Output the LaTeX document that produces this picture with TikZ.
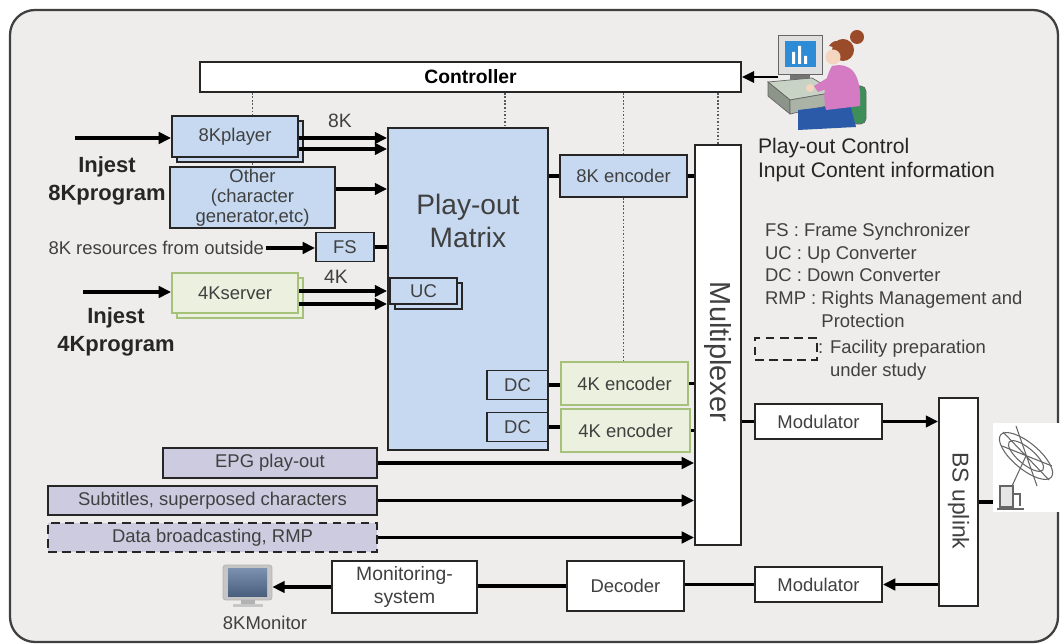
\documentclass[tikz,border=0pt]{standalone}
\usepackage{fontspec}
\setmainfont{Liberation Sans}
\usetikzlibrary{arrows.meta,shadows}

\definecolor{panel}{HTML}{EEEDEB}
\definecolor{blueF}{HTML}{C6D9F1}
\definecolor{greenF}{HTML}{EBF1DE}
\definecolor{greenD}{HTML}{A6C27A}
\definecolor{lilacF}{HTML}{CDCBE0}
\definecolor{ink}{HTML}{404040}
\definecolor{scr}{HTML}{2E8BD6}
\definecolor{desk}{HTML}{C9D3C5}
\definecolor{chair}{HTML}{3E8E5A}
\definecolor{jeans}{HTML}{2B5BA8}
\definecolor{shirt}{HTML}{D47BC4}
\definecolor{skin}{HTML}{F5D5BF}
\definecolor{hair}{HTML}{9A4B2A}
\definecolor{tvtop}{HTML}{7A90AE}
\definecolor{tvbot}{HTML}{4A5F7D}

\tikzset{
  sz/.style 2 args={minimum width=#1cm, minimum height=#2cm},
  box/.style={draw=black!85, line width=1.1pt, inner sep=1pt, text=ink,
              font=\fontsize{10.5}{12}\selectfont},
  bluebox/.style={box, fill=blueF},
  greenbox/.style={box, fill=greenF, draw=greenD},
  lilacbox/.style={box, fill=lilacF},
  whitebox/.style={box, fill=white},
  stack/.style={copy shadow={shadow xshift=3pt, shadow yshift=-3pt}},
  flow/.style={line width=1.8pt, -{Triangle[length=7pt,width=6.5pt]}},
  link/.style={line width=1.8pt},
  ctl/.style={densely dotted, line width=1pt, black!65},
  note/.style={text=ink, font=\fontsize{10.5}{12.9}\selectfont},
  inj/.style={text=black!85, font=\bfseries\fontsize{12.5}{16}\selectfont, align=center},
}

\begin{document}
\begin{tikzpicture}[x=0.02cm, y=-0.02cm]
  \useasboundingbox (0,0) rectangle (1061,644);
  \draw[fill=panel, draw=black!75, line width=1.3pt, rounded corners=0.5cm]
    (10,10) rectangle (1058,642);

  % controller
  \node[whitebox, sz={10.82}{0.6}, text=black,
        font=\bfseries\fontsize{11}{13}\selectfont] (ctrl) at (470.5,77) {Controller};

  % program sources
  \node[inj] (inj8k) at (107,181) {Injest\\8Kprogram};
  \node[inj] (inj4k) at (116,331.5) {Injest\\4Kprogram};
  \coordinate (in8k) at (75,138);
  \coordinate (in4k) at (83,292);
  \node[bluebox, stack, sz={2.52}{0.82}] (play8k) at (235,136.5) {8Kplayer};
  \node[bluebox, sz={3.3}{1.22}, align=center,
        font=\fontsize{10.5}{11.3}\selectfont] (other) at (252.5,197.5)
        {Other\\(character\\generator,etc)};
  \node[bluebox, sz={1.16}{0.58}] (fs) at (345,247) {FS};
  \node[note, anchor=east, inner sep=1pt] (ext8k) at (266,248) {8K resources from outside};
  \node[greenbox, stack, sz={2.52}{0.8}] (srv4k) at (235,293) {4Kserver};
  \node[note, font=\fontsize{11}{13}\selectfont] (lbl8k) at (340,121) {8K};
  \node[note, font=\fontsize{11}{13}\selectfont] (lbl4k) at (336,277) {4K};

  % matrix
  \node[bluebox, sz={3.2}{6.44}] (matrix) at (468,289) {};
  \node[text=ink, font=\fontsize{16}{18.7}\selectfont, align=center] (mtxtext)
    at (468,221) {Play-out\\Matrix};
  \node[bluebox, stack, sz={1.34}{0.52}] (uc) at (423.5,291) {UC};
  \node[bluebox, sz={1.22}{0.58}] (dc1) at (517.5,385) {DC};
  \node[bluebox, sz={1.22}{0.58}] (dc2) at (517.5,427) {DC};

  % encoders and multiplexer
  \node[bluebox, sz={2.54}{0.84}] (enc8k) at (623.5,176) {8K encoder};
  \node[greenbox, sz={2.54}{0.86}] (enc4ka) at (624.5,383.5) {4K encoder};
  \node[greenbox, sz={2.58}{0.86}] (enc4kb) at (625.5,430.5) {4K encoder};
  \node[whitebox, sz={0.92}{8}] (mux) at (718,345) {};
  \node[rotate=-90, text=ink, font=\fontsize{16.5}{19}\selectfont] (muxtext)
    at (718,352) {Multiplexer};

  % ancillary data
  \node[lilacbox, sz={4.28}{0.6}] (epg) at (270,463) {EPG play-out};
  \node[lilacbox, sz={6.58}{0.58}] (subt) at (212.5,500.5) {Subtitles, superposed characters};
  \node[lilacbox, sz={6.58}{0.58}, dash pattern=on 5pt off 3pt] (datab) at (212.5,537.5)
    {Data broadcasting, RMP};

  % transmission and monitoring
  \node[whitebox, sz={2.54}{0.7}] (modup) at (818.5,421.5) {Modulator};
  \node[whitebox, sz={0.78}{4.16}] (bsup) at (958.5,502) {};
  \node[rotate=-90, text=ink, font=\fontsize{13}{15}\selectfont] (bstext)
    at (958.5,501) {BS uplink};
  \node[whitebox, sz={2.54}{0.7}] (moddn) at (818.5,584.5) {Modulator};
  \node[whitebox, sz={2.34}{1.0}] (dec) at (625.5,586) {Decoder};
  \node[whitebox, sz={2.9}{1.04}, align=center,
        font=\fontsize{11}{12.6}\selectfont] (monsys) at (404.5,587) {Monitoring-\\system};

  % monitor
  \node[fill=gray!45, draw=gray!60, rounded corners=1.5pt, sz={0.98}{0.7},
        inner sep=0pt] (mon) at (247.5,582.5) {};
  \shade[top color=tvtop, bottom color=tvbot] (228,569) rectangle (267,596);
  \fill[gray!60] (241,600) rectangle (255,604);
  \fill[gray!45] (233,604) rectangle (263,607);
  \node[note] (monlbl) at (265,623) {8KMonitor};

  % antenna
  \node[fill=white, sz={1.34}{1.78}, inner sep=0pt] (dish) at (1026.5,467.5) {};
  \begin{scope}[draw=black!60, line width=0.6pt]
    \draw[rotate around={-40:(1026,456)}] (1026,456) ellipse (33 and 13);
    \draw[rotate around={-40:(1026,456)}] (1026,456) ellipse (22 and 8);
    \draw (1003,432) -- (1049,480) (1016,426) -- (1037,486) (1002,446) -- (1052,466);
    \draw (1026,456) -- (1012,486);
    \draw[fill=gray!20] (1000,486) rectangle (1013,507);
    \draw (1013,494) -- (1020,494) -- (1020,506);
    \draw (997,509) -- (1024,509);
  \end{scope}

  % operator at the console
  \coordinate (op) at (778,77);
  \fill[black!55] (790,73) rectangle (810,80);
  \filldraw[fill=gray!25, draw=black!60] (778,35) rectangle (822,74);
  \fill[scr] (785,41) rectangle (816,67);
  \fill[white] (792,52) rectangle (795,64) (798,46) rectangle (801,64)
    (804,56) rectangle (807,64);
  \filldraw[fill=desk, draw=black!60] (768,82) -- (812,78) -- (836,92) -- (790,100) -- cycle;
  \filldraw[fill=desk!70!black, draw=black!60] (768,82) -- (790,100) -- (790,114) -- (768,96) -- cycle;
  \filldraw[fill=desk!85!black, draw=black!60] (790,100) -- (836,92) -- (836,104) -- (790,114) -- cycle;
  \filldraw[fill=chair, draw=black!60, rounded corners=3pt] (846,86) rectangle (866,124);
  \fill[jeans] (798,110) -- (850,104) -- (856,127) -- (798,130) -- cycle;
  \fill[shirt] (832,66) .. controls (850,62) and (862,72) .. (860,106)
    -- (826,110) .. controls (822,95) and (826,75) .. (832,66) -- cycle;
  \fill[shirt] (834,74) -- (814,86) -- (818,92) -- (840,84) -- cycle;
  \fill[skin] (810,88) circle (4);
  \fill[hair] (843,50) circle (11);
  \fill[hair] (857,37) circle (7);
  \fill[skin] (833,57) circle (7.5);
  \fill[hair] (829,46) .. controls (834,38) and (842,40) .. (843,50)
    -- (836,50) .. controls (834,47) and (831,46) .. (829,46) -- cycle;
  \node[anchor=west, text=black!85, font=\fontsize{12}{13.6}\selectfont, align=left,
        inner sep=1pt] (opinfo) at (756,160) {Play-out Control\\Input Content information};

  % abbreviations
  \node[note, anchor=north west, align=left, inner sep=1pt] (abbr) at (763,221)
    {FS : Frame Synchronizer\\UC : Up Converter\\DC : Down Converter\\
     RMP : Rights Management and\\\phantom{RMP : }Protection};
  \node[draw=black!85, line width=1pt, dash pattern=on 5pt off 3pt, sz={1.24}{0.44}]
    (legbox) at (786,349) {};
  \node[note, anchor=north west, align=left, inner sep=1pt] (legtxt) at (816,338)
    {: Facility preparation\\\phantom{: }under study};

  % signal flow
  \draw[flow] (in8k) -- (in8k -| play8k.west);
  \draw[flow] (play8k.east) ++(0,1.5) coordinate (a1) -- (a1 -| matrix.west);
  \draw[flow] (play8k.east) ++(0,12.5) coordinate (a2) -- (a2 -| matrix.west);
  \draw[flow] (other.east) ++(0,-8.5) coordinate (a3) -- (a3 -| matrix.west);
  \draw[flow] (ext8k.east) -- (ext8k.east -| fs.west);
  \draw[link] (fs.east) -- (fs.east -| matrix.west);
  \draw[flow] (in4k) -- (in4k -| srv4k.west);
  \draw[flow] (srv4k.east) ++(0,-2) coordinate (a4) -- (a4 -| matrix.west);
  \draw[flow] (srv4k.east) ++(0,11) coordinate (a5) -- (a5 -| matrix.west);

  \draw[link] (enc8k.west -| matrix.east) -- (enc8k.west);
  \draw[link] (enc8k.east) -- (enc8k.east -| mux.west);
  \draw[link] (dc1.east) -- (dc1.east -| enc4ka.west);
  \draw[link] (dc2.east) -- (dc2.east -| enc4kb.west);
  \draw[link] (enc4ka.east) -- (enc4ka.east -| mux.west);
  \draw[link] (enc4kb.east) -- (enc4kb.east -| mux.west);
  \foreach \src in {epg,subt,datab}
    \draw[flow] (\src.east) -- (\src.east -| mux.west);

  \draw[link] (modup.west -| mux.east) -- (modup.west);
  \draw[flow] (modup.east) -- (modup.east -| bsup.west);
  \draw[link] (bsup.east) -- (bsup.east -| dish.west);
  \draw[flow] (moddn.east -| bsup.west) -- (moddn.east);
  \draw[link] (moddn.west) -- (moddn.west -| dec.east);
  \draw[link] (dec.west) -- (dec.west -| monsys.east);
  \draw[flow] (monsys.west) -- (monsys.west -| mon.east);
  \draw[flow, line width=1.3pt] (op) -- (ctrl.east);

  % control lines
  \coordinate (tap) at (505,100);
  \draw[ctl] (ctrl.south -| other.north) -- (play8k.north -| other.north);
  \draw[ctl] (play8k.south -| other.north) ++(0,5) -- (other.north);
  \draw[ctl] (ctrl.south -| tap) -- (matrix.north -| tap);
  \draw[ctl] (enc8k.north |- ctrl.south) -- (enc8k.north);
  \draw[ctl] (enc8k.south) -- (enc8k.south |- enc4ka.north);
  \draw[ctl] (mux.north |- ctrl.south) -- (mux.north);
\end{tikzpicture}
\end{document}
